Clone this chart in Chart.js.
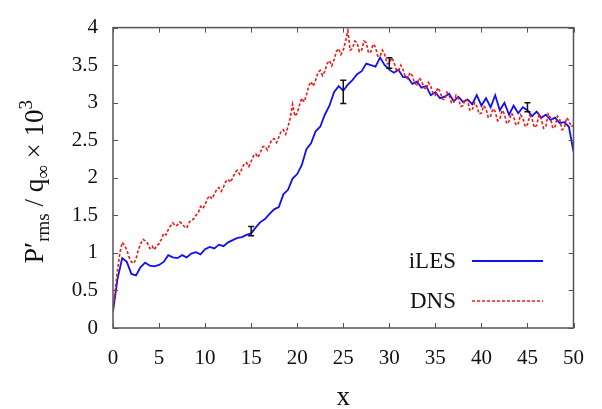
<!DOCTYPE html>
<html>
<head>
<meta charset="utf-8">
<script src="https://cdn.jsdelivr.net/npm/chart.js@4.4.1/dist/chart.umd.min.js"></script>
<style>
  html, body { margin: 0; padding: 0; background: #fff; }
  #wrap { width: 602px; height: 409px; }
  .probe { position: absolute; left: -999px; top: 0; font-family: "Liberation Serif"; }
</style>
</head>
<body>
<span class="probe">P′rms q∞ × 0123456789 iLES DNS x</span>
<div id="wrap"><canvas id="c"></canvas></div>
<script>
// iLES, sampled every 0.5
const xIles = [
  0, 0.5, 1, 1.5, 2, 2.5, 3, 3.5, 4, 4.5, 5, 5.5, 6, 6.5, 7, 7.5, 8, 8.5, 9, 9.5,
  10, 10.5, 11, 11.5, 12, 12.5, 13, 13.5, 14, 14.5, 15, 15.5, 16, 16.5, 17, 17.5, 18, 18.5, 19, 19.5,
  20, 20.5, 21, 21.5, 22, 22.5, 23, 23.5, 24, 24.5, 25, 25.5, 26, 26.5, 27, 27.5, 28, 28.5, 29, 29.5,
  30, 30.5, 31, 31.5, 32, 32.5, 33, 33.5, 34, 34.5, 35, 35.5, 36, 36.5, 37, 37.5, 38, 38.5, 39, 39.5,
  40, 40.5, 41, 41.5, 42, 42.5, 43, 43.5, 44, 44.5, 45, 45.5, 46, 46.5, 47, 47.5, 48, 48.5, 49, 49.5, 50
];
const iles = [
  0.22, 0.66, 0.93, 0.88, 0.72, 0.70, 0.81, 0.87, 0.83, 0.82, 0.84, 0.88, 0.97, 0.94, 0.93, 0.97, 0.94, 0.99, 1.01, 0.98,
  1.05, 1.08, 1.06, 1.11, 1.09, 1.14, 1.17, 1.20, 1.21, 1.24, 1.26, 1.34, 1.41, 1.45, 1.52, 1.58, 1.61, 1.78, 1.84, 1.99,
  2.05, 2.17, 2.38, 2.46, 2.62, 2.68, 2.84, 2.96, 3.14, 3.22, 3.16, 3.24, 3.30, 3.38, 3.42, 3.52, 3.50, 3.48, 3.60, 3.50,
  3.44, 3.40, 3.44, 3.34, 3.34, 3.25, 3.28, 3.20, 3.22, 3.10, 3.14, 3.06, 3.08, 3.12, 3.02, 3.08, 3.01, 3.04, 2.98, 3.10,
  2.96, 3.06, 2.94, 3.10, 2.90, 3.00, 2.84, 2.96, 2.86, 2.94, 2.90, 2.82, 2.88, 2.80, 2.84, 2.77, 2.80, 2.73, 2.74, 2.68, 2.35
];

// DNS, sampled every 0.25
const xDns = [
  0, 0.25, 0.5, 0.75, 1, 1.25, 1.5, 1.75, 2, 2.25, 2.5, 2.75, 3, 3.25, 3.5, 3.75, 4, 4.25, 4.5, 4.75,
  5, 5.25, 5.5, 5.75, 6, 6.25, 6.5, 6.75, 7, 7.25, 7.5, 7.75, 8, 8.25, 8.5, 8.75, 9, 9.25, 9.5, 9.75,
  10, 10.25, 10.5, 10.75, 11, 11.25, 11.5, 11.75, 12, 12.25, 12.5, 12.75, 13, 13.25, 13.5, 13.75, 14, 14.25, 14.5, 14.75,
  15, 15.25, 15.5, 15.75, 16, 16.25, 16.5, 16.75, 17, 17.25, 17.5, 17.75, 18, 18.25, 18.5, 18.75, 19, 19.25, 19.5, 19.75,
  20, 20.25, 20.5, 20.75, 21, 21.25, 21.5, 21.75, 22, 22.25, 22.5, 22.75, 23, 23.25, 23.5, 23.75, 24, 24.25, 24.5, 24.75,
  25, 25.25, 25.5, 25.75, 26, 26.25, 26.5, 26.75, 27, 27.25, 27.5, 27.75, 28, 28.25, 28.5, 28.75, 29, 29.25, 29.5, 29.75,
  30, 30.25, 30.5, 30.75, 31, 31.25, 31.5, 31.75, 32, 32.25, 32.5, 32.75, 33, 33.25, 33.5, 33.75, 34, 34.25, 34.5, 34.75,
  35, 35.25, 35.5, 35.75, 36, 36.25, 36.5, 36.75, 37, 37.25, 37.5, 37.75, 38, 38.25, 38.5, 38.75, 39, 39.25, 39.5, 39.75,
  40, 40.25, 40.5, 40.75, 41, 41.25, 41.5, 41.75, 42, 42.25, 42.5, 42.75, 43, 43.25, 43.5, 43.75, 44, 44.25, 44.5, 44.75,
  45, 45.25, 45.5, 45.75, 46, 46.25, 46.5, 46.75, 47, 47.25, 47.5, 47.75, 48, 48.25, 48.5, 48.75, 49, 49.25, 49.5, 49.75, 50
];
const dns = [
  0.22, 0.52, 0.78, 1.00, 1.14, 1.10, 1.04, 0.94, 0.88, 0.86, 0.92, 1.04, 1.12, 1.18, 1.16, 1.13, 1.06, 1.09, 1.04, 1.10,
  1.12, 1.18, 1.26, 1.24, 1.31, 1.36, 1.40, 1.36, 1.37, 1.41, 1.39, 1.35, 1.33, 1.40, 1.44, 1.45, 1.50, 1.53, 1.62, 1.59,
  1.64, 1.72, 1.76, 1.72, 1.78, 1.84, 1.87, 1.82, 1.88, 1.95, 1.98, 1.94, 2.00, 2.07, 2.10, 2.05, 2.12, 2.19, 2.20, 2.15,
  2.22, 2.29, 2.32, 2.27, 2.34, 2.41, 2.42, 2.37, 2.44, 2.51, 2.52, 2.47, 2.54, 2.62, 2.64, 2.58, 2.68, 2.80, 2.98, 2.82,
  2.86, 2.97, 3.06, 3.01, 3.10, 3.22, 3.28, 3.22, 3.30, 3.40, 3.43, 3.36, 3.42, 3.52, 3.56, 3.49, 3.57, 3.68, 3.72, 3.64,
  3.70, 3.82, 3.96, 3.70, 3.72, 3.82, 3.80, 3.68, 3.70, 3.82, 3.80, 3.66, 3.68, 3.78, 3.74, 3.62, 3.62, 3.70, 3.64, 3.52,
  3.52, 3.60, 3.54, 3.44, 3.42, 3.50, 3.44, 3.34, 3.32, 3.40, 3.36, 3.26, 3.24, 3.33, 3.29, 3.20, 3.18, 3.27, 3.22, 3.12,
  3.10, 3.20, 3.15, 3.05, 3.04, 3.14, 3.10, 3.00, 3.00, 3.10, 3.06, 2.95, 2.96, 3.05, 3.02, 2.90, 2.90, 3.00, 2.95, 2.85,
  2.86, 2.96, 2.92, 2.80, 2.82, 2.92, 2.88, 2.76, 2.78, 2.90, 2.85, 2.72, 2.75, 2.86, 2.82, 2.70, 2.72, 2.84, 2.80, 2.68,
  2.71, 2.83, 2.79, 2.67, 2.70, 2.84, 2.78, 2.66, 2.68, 2.85, 2.80, 2.66, 2.68, 2.82, 2.78, 2.64, 2.66, 2.80, 2.76, 2.68, 2.70
];

// error bars (iLES)
const errX    = [15, 25, 30, 45];
const errLow  = [1.23, 2.99, 3.46, 2.88];
const errHigh = [1.35, 3.30, 3.60, 3.00];

const seriesNames = ['iLES', 'DNS'];

const SERIF = '"Liberation Serif", "Times New Roman", Tinos, "Nimbus Roman", "DejaVu Serif", serif';
const BLUE = '#1010f0';
const RED = '#f01818';
const FRAME = '#555555';

const errData = [];
errX.forEach((x, i) => {
  errData.push({ x, y: errLow[i] }, { x, y: errHigh[i] }, { x, y: null });
});

// frame, inward ticks, legend and y label
const decor = {
  id: 'decor',
  afterDraw(chart) {
    const { ctx, chartArea: a, scales } = chart;
    const xs = scales.x, ys = scales.y;
    ctx.save();
    ctx.strokeStyle = FRAME;
    ctx.lineWidth = 1.5;
    ctx.strokeRect(a.left, a.top, a.right - a.left, a.bottom - a.top);
    ctx.lineWidth = 1;
    const tl = 5;
    ctx.beginPath();
    xs.ticks.forEach(t => {
      const p = Math.round(xs.getPixelForValue(t.value)) + 0.5;
      ctx.moveTo(p, a.bottom); ctx.lineTo(p, a.bottom - tl);
      ctx.moveTo(p, a.top); ctx.lineTo(p, a.top + tl);
    });
    ys.ticks.forEach(t => {
      const p = Math.round(ys.getPixelForValue(t.value)) + 0.5;
      ctx.moveTo(a.left, p); ctx.lineTo(a.left + tl, p);
      ctx.moveTo(a.right, p); ctx.lineTo(a.right - tl, p);
    });
    ctx.stroke();

    // legend
    ctx.font = '23px ' + SERIF;
    ctx.fillStyle = '#111';
    ctx.textAlign = 'right';
    ctx.textBaseline = 'middle';
    const rows = [
      { name: seriesNames[0], color: BLUE, dash: [], y: 261 },
      { name: seriesNames[1], color: RED, dash: [3, 2], y: 301 }
    ];
    rows.forEach(r => {
      ctx.fillText(r.name, 456, r.y + 1);
      ctx.strokeStyle = r.color;
      ctx.lineWidth = r.dash.length ? 1.3 : 1.8;
      ctx.setLineDash(r.dash);
      ctx.beginPath();
      ctx.moveTo(472, r.y); ctx.lineTo(543, r.y);
      ctx.stroke();
    });
    ctx.setLineDash([]);

    // y axis label: P'rms / q∞ × 10^3
    const parts = [
      { t: 'P', s: 28, dy: 0 },
      { t: '\u2032', s: 28, dy: 0 },
      { t: 'rms', s: 19, dy: 6 },
      { t: ' / q', s: 27, dy: 0 },
      { t: '\u221E', s: 19, dy: 6 },
      { t: ' \u00D7 10', s: 27, dy: 0 },
      { t: '3', s: 19, dy: -11 }
    ];
    let total = 0;
    parts.forEach(p => {
      ctx.font = p.s + 'px ' + SERIF;
      p.w = ctx.measureText(p.t).width;
      total += p.w;
    });
    ctx.translate(43, (a.top + a.bottom) / 2 + 4);
    ctx.rotate(-Math.PI / 2);
    ctx.textAlign = 'left';
    ctx.textBaseline = 'alphabetic';
    let cx = -total / 2;
    parts.forEach(p => {
      ctx.font = p.s + 'px ' + SERIF;
      ctx.fillText(p.t, cx, p.dy);
      cx += p.w;
    });
    ctx.restore();
  }
};

function draw() {
  new Chart(document.getElementById('c'), {
    type: 'scatter',
    data: {
      datasets: [
        {
          label: 'error',
          data: errData,
          showLine: true,
          spanGaps: false,
          borderColor: '#111',
          backgroundColor: '#111',
          borderWidth: 1.5,
          pointStyle: 'line',
          pointRadius: 3,
          pointBorderWidth: 1.5
        },
        {
          label: seriesNames[1],
          data: xDns.map((x, i) => ({ x, y: dns[i] })),
          showLine: true,
          borderColor: RED,
          borderWidth: 1.6,
          borderDash: [3, 2],
          pointRadius: 0,
          tension: 0
        },
        {
          label: seriesNames[0],
          data: xIles.map((x, i) => ({ x, y: iles[i] })),
          showLine: true,
          borderColor: BLUE,
          borderWidth: 1.8,
          pointRadius: 0,
          tension: 0
        }
      ]
    },
    options: {
      responsive: true,
      maintainAspectRatio: false,
      animation: false,
      layout: { padding: { left: 0, right: 25, top: 14, bottom: 0 } },
      plugins: {
        legend: { display: false },
        tooltip: { enabled: false }
      },
      scales: {
        x: {
          type: 'linear',
          min: 0,
          max: 50,
          afterFit: s => { s.height = 81; },
          border: { display: false },
          grid: { display: false, drawTicks: false },
          ticks: {
            stepSize: 5,
            padding: 18,
            color: '#111',
            font: { family: SERIF, size: 21 },
            maxRotation: 0,
            callback: v => String(v)
          },
          title: {
            display: true,
            text: 'x',
            color: '#111',
            font: { family: SERIF, size: 27, lineHeight: 0.8 },
            padding: { top: 0, bottom: 0 }
          }
        },
        y: {
          min: 0,
          max: 4,
          afterFit: s => { s.width = 113; },
          border: { display: false },
          grid: { display: false, drawTicks: false },
          ticks: {
            stepSize: 0.5,
            padding: 15,
            color: '#111',
            font: { family: SERIF, size: 21 },
            callback: v => String(v)
          }
        }
      }
    },
    plugins: [decor]
  });
}

if (document.fonts && document.fonts.load) {
  Promise.all([
    document.fonts.load('24px "Liberation Serif"'),
    document.fonts.load('24px "Times New Roman"')
  ]).then(draw, draw);
} else {
  draw();
}
</script>
</body>
</html>
